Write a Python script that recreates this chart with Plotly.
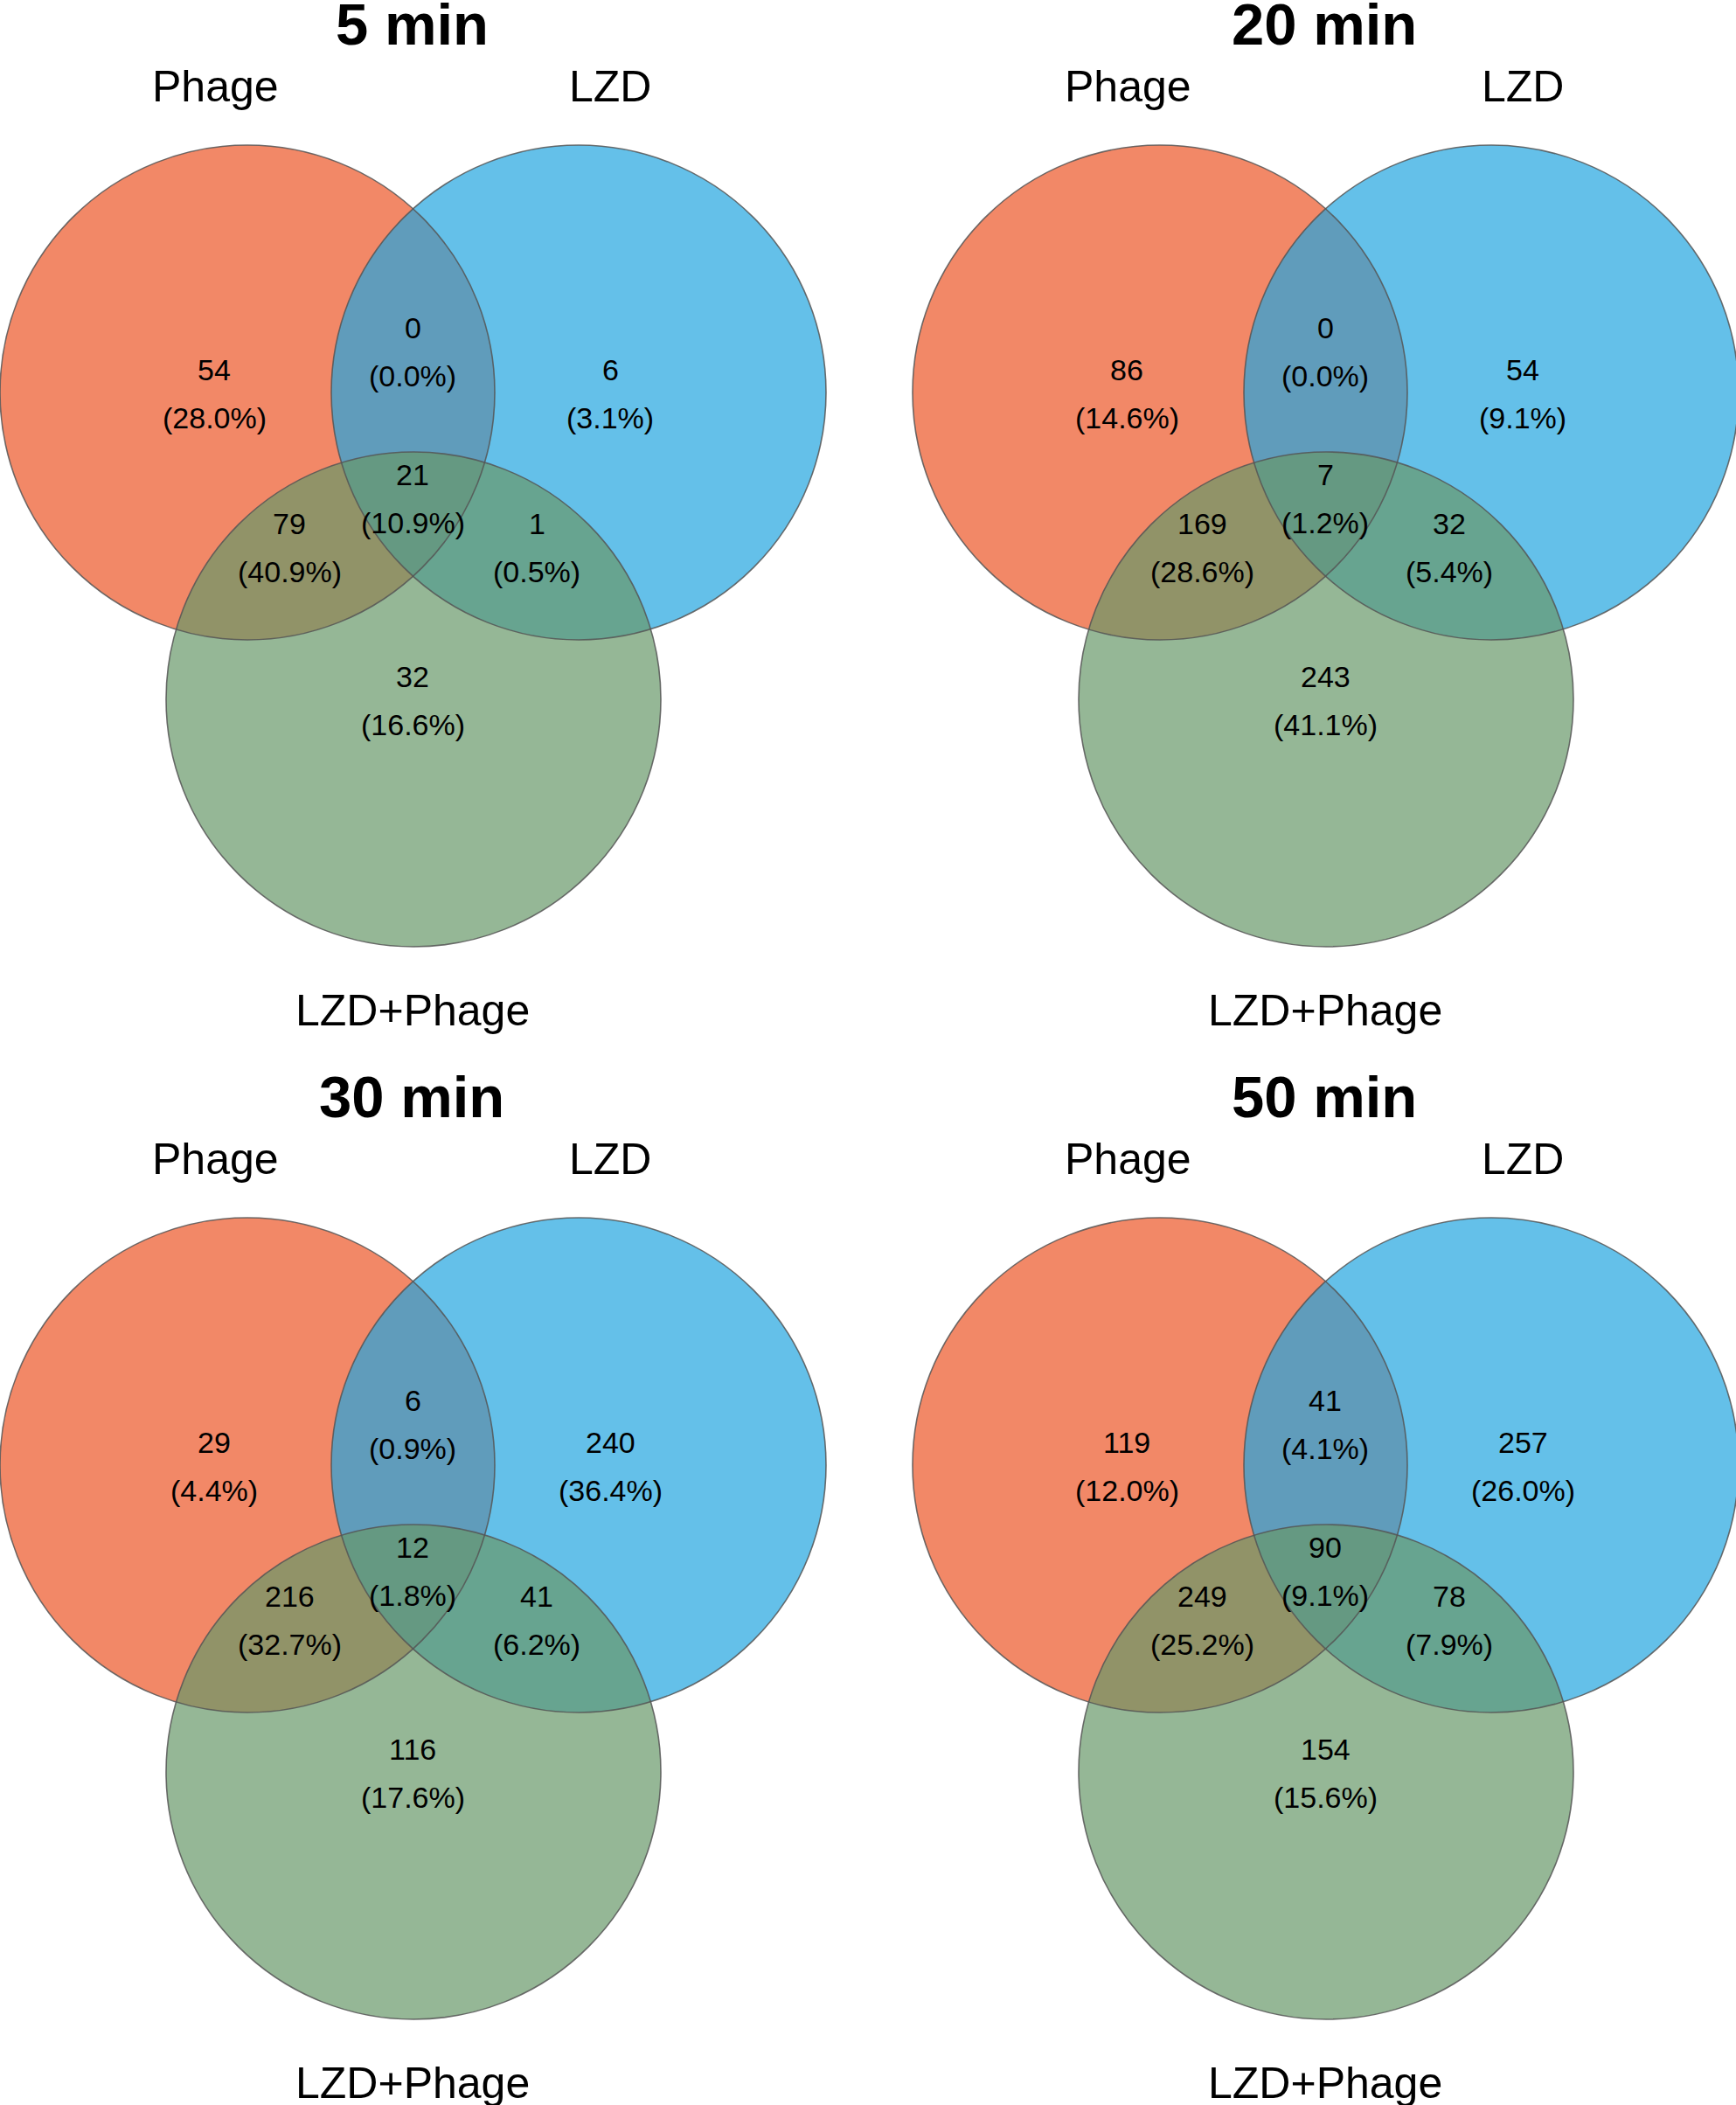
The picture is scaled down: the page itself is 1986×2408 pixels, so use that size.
import plotly.graph_objects as go

# ---------------- data ----------------
panel_titles = ["5 min", "20 min", "30 min", "50 min"]
set_names = ["Phage", "LZD", "LZD+Phage"]
# region order: Phage only, LZD only, Phage&LZD, all three, Phage&LZD+Phage, LZD&LZD+Phage, LZD+Phage only
counts_5 = [54, 6, 0, 21, 79, 1, 32]
counts_20 = [86, 54, 0, 7, 169, 32, 243]
counts_30 = [29, 240, 6, 12, 216, 41, 116]
counts_50 = [119, 257, 41, 90, 249, 78, 154]
pct_5 = ["28.0", "3.1", "0.0", "10.9", "40.9", "0.5", "16.6"]
pct_20 = ["14.6", "9.1", "0.0", "1.2", "28.6", "5.4", "41.1"]
pct_30 = ["4.4", "36.4", "0.9", "1.8", "32.7", "6.2", "17.6"]
pct_50 = ["12.0", "26.0", "4.1", "9.1", "25.2", "7.9", "15.6"]

counts = [counts_5, counts_20, counts_30, counts_50]
pcts = [pct_5, pct_20, pct_30, pct_50]

# ---------------- layout geometry (pixels) ----------------
W, H = 1986, 2408
panel_offsets = [(0, 0), (1044, 0), (0, 1227), (1044, 1227)]
R = 283
circle_centers = [(283, 449), (662, 449), (473, 800)]
fill_colors = ["rgba(236,85,39,0.7)", "rgba(34,165,224,0.7)", "rgba(104,152,105,0.7)"]
edge_color = "rgba(85,85,85,0.85)"
region_pos = [(245, 423), (698, 423), (472, 375), (472, 543),
              (331, 599), (614, 599), (472, 774)]
line_gap = 55
title_pos = (471, 29)
label_pos = [(246, 99), (698, 99), (472, 1156)]

FONT = "Liberation Sans, Arial, Helvetica, sans-serif"

fig = go.Figure()
fig.add_trace(go.Scatter(x=[0, W], y=[0, H], mode="markers",
                         marker=dict(opacity=0), hoverinfo="skip", showlegend=False))

shapes = []
annotations = []
for p, (ox, oy) in enumerate(panel_offsets):
    # fills
    for (cx, cy), fc in zip(circle_centers, fill_colors):
        shapes.append(dict(type="circle", xref="x", yref="y",
                           x0=ox + cx - R, x1=ox + cx + R,
                           y0=oy + cy - R, y1=oy + cy + R,
                           fillcolor=fc, line=dict(width=0), layer="above"))
    # outlines
    for (cx, cy) in circle_centers:
        shapes.append(dict(type="circle", xref="x", yref="y",
                           x0=ox + cx - R, x1=ox + cx + R,
                           y0=oy + cy - R, y1=oy + cy + R,
                           fillcolor="rgba(0,0,0,0)",
                           line=dict(color=edge_color, width=1.6), layer="above"))
    # title
    annotations.append(dict(x=ox + title_pos[0], y=oy + title_pos[1] - 2,
                            xref="x", yref="y", text="<b>%s</b>" % panel_titles[p],
                            showarrow=False, xanchor="center", yanchor="middle",
                            font=dict(family=FONT, size=67, color="black")))
    # set labels
    for name, (lx, ly) in zip(set_names, label_pos):
        annotations.append(dict(x=ox + lx, y=oy + ly, xref="x", yref="y",
                                text=name, showarrow=False, xanchor="center",
                                yanchor="middle",
                                font=dict(family=FONT, size=50, color="black")))
    # region values
    for c, pc, (rx, ry) in zip(counts[p], pcts[p], region_pos):
        annotations.append(dict(x=ox + rx, y=oy + ry, xref="x", yref="y",
                                text=str(c), showarrow=False, xanchor="center",
                                yanchor="middle",
                                font=dict(family=FONT, size=34, color="black")))
        annotations.append(dict(x=ox + rx, y=oy + ry + line_gap, xref="x", yref="y",
                                text="(%s%%)" % pc, showarrow=False, xanchor="center",
                                yanchor="middle",
                                font=dict(family=FONT, size=34, color="black")))

fig.update_layout(
    width=W, height=H,
    margin=dict(l=0, r=0, t=0, b=0),
    paper_bgcolor="white", plot_bgcolor="white",
    xaxis=dict(range=[0, W], visible=False, fixedrange=True),
    yaxis=dict(range=[H, 0], visible=False, fixedrange=True),
    shapes=shapes, annotations=annotations, showlegend=False,
)

fig.write_html("out.html",
               config={"displayModeBar": False},
               post_script="document.body.style.margin='0';document.body.style.overflow='hidden';")
